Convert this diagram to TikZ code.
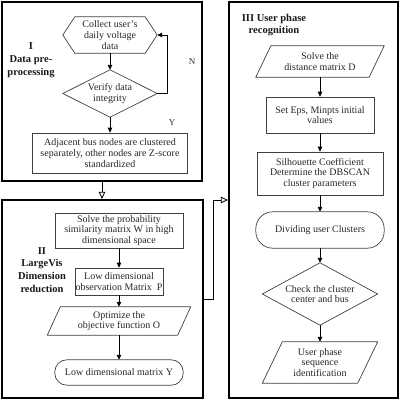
\documentclass[tikz,border=0pt]{standalone}
\usepackage{fontspec}
\setmainfont{Liberation Serif}
\usetikzlibrary{arrows.meta,calc}
\begin{document}
\begin{tikzpicture}[x=1pt,y=-1pt,
  elem/.style={inner sep=0pt, align=center, font=\fontsize{10}{10.8}\selectfont, text=black!85},
  rectbox/.style={elem, draw=black!75, line width=0.7pt},
  outl/.style={draw=black!75, line width=0.7pt},
  conn/.style={line width=0.9pt, -{Triangle[length=5pt,width=4.5pt]}},
  openconn/.style={line width=0.8pt, -{Triangle[open,length=7pt,width=6.5pt,fill=white]}},
  panel/.style={draw, line width=2.2pt, inner sep=0pt},
  lbl/.style={font=\bfseries\fontsize{10.5}{12.8}\selectfont, align=center, inner sep=0pt, text=black!90},
  yn/.style={font=\fontsize{9}{10}\selectfont, inner sep=0pt, text=black!80}
]
\useasboundingbox (0,0) rectangle (400,400);

% panels
\node[panel, minimum width=200pt, minimum height=179pt] (P1) at (102,91.5) {};
\node[panel, minimum width=201pt, minimum height=198pt] (P2) at (102.5,299) {};
\node[panel, minimum width=169pt, minimum height=396pt] (P3) at (313.5,200) {};

% panel labels
\node[lbl] (L1) at (31,60) {I\\Data pre-\\processing};
\node[lbl] (L2) at (42,270) {II\\LargeVis\\Dimension\\reduction};
\node[lbl] (L3) at (274,25) {III User phase\\recognition};

% ---- Panel I
\node[elem, minimum width=94pt, minimum height=36pt] (hex) at (110,35) {Collect user's\\daily voltage\\data};
\draw[outl] (hex.west) -- ([xshift=12pt]hex.north west) -- ([xshift=-12pt]hex.north east) -- (hex.east) -- ([xshift=-12pt]hex.south east) -- ([xshift=12pt]hex.south west) -- cycle;

\node[elem, minimum width=94pt, minimum height=47pt] (dia) at (110,93.5) {Verify data\\integrity};
\draw[outl] (dia.north) -- (dia.east) -- (dia.south) -- (dia.west) -- cycle;

\node[rectbox, minimum width=155pt, minimum height=40pt] (adj) at (110,153) {Adjacent bus nodes are clustered\\separately, other nodes are Z-score\\standardized};

\draw[conn] (hex) -- (dia);
\draw[conn] (dia) -- (adj);
\draw[conn] (dia.east) -- ++(10,0) |- (hex.east);
\node[yn] (N) at (192,62) {N};
\node[yn] (Y) at (172,123) {Y};

% ---- Panel II
\node[rectbox, minimum width=128pt, minimum height=35pt] (r1) at (119,230.5) {Solve the probability\\similarity matrix W in high\\dimensional space};
\node[rectbox, minimum width=88pt, minimum height=27pt] (r2) at (119,281.5) {Low dimensional\\observation Matrix\ \ P};
\node[elem, minimum width=143pt, minimum height=28pt] (pg1) at (119,321) {Optimize the\\objective function O};
\draw[outl] ([xshift=13pt]pg1.north west) -- (pg1.north east) -- ([xshift=-13pt]pg1.south east) -- (pg1.south west) -- cycle;
\node[elem, minimum width=128pt, minimum height=25pt] (st1) at (119,372.5) {Low dimensional matrix Y};
\draw[outl, rounded corners=12pt] (st1.south west) rectangle (st1.north east);

\draw[conn] (r1) -- (r2);
\draw[conn] (r2) -- (pg1);
\draw[conn] (pg1) -- (st1);

% ---- Panel III
\node[elem, minimum width=128pt, minimum height=31pt] (pg2) at (320,61.5) {Solve the\\distance matrix D};
\draw[outl] ([xshift=15pt]pg2.north west) -- (pg2.north east) -- ([xshift=-15pt]pg2.south east) -- (pg2.south west) -- cycle;
\node[rectbox, minimum width=108pt, minimum height=36pt] (r3) at (320,115) {Set Eps, Minpts initial\\values};
\node[rectbox, minimum width=126pt, minimum height=43pt] (r4) at (320,173.5) {Silhouette Coefficient\\Determine the DBSCAN\\cluster parameters};
\node[elem, minimum width=128pt, minimum height=36pt] (st2) at (320,230) {Dividing user Clusters};
\draw[outl, rounded corners=17pt] (st2.south west) rectangle (st2.north east);
\node[elem, minimum width=115pt, minimum height=62pt] (d2) at (320,294) {Check the cluster\\center and bus};
\draw[outl] (d2.north) -- (d2.east) -- (d2.south) -- (d2.west) -- cycle;
\node[elem, minimum width=115pt, minimum height=41pt] (pg3) at (320,362.5) {User phase\\sequence\\identification};
\draw[outl] ([xshift=20pt]pg3.north west) -- (pg3.north east) -- ([xshift=-20pt]pg3.south east) -- (pg3.south west) -- cycle;

\draw[conn] (pg2) -- (r3);
\draw[conn] (r3) -- (r4);
\draw[conn] (r4) -- (st2);
\draw[conn] (st2) -- (d2);
\draw[conn] (d2) -- (pg3);

% ---- panel connectors
\draw[openconn] (P1.south) -- (P1.south |- P2.north);
\draw[openconn] (P2.east) -- ++(9,0) |- (P3.west);
\end{tikzpicture}
\end{document}
